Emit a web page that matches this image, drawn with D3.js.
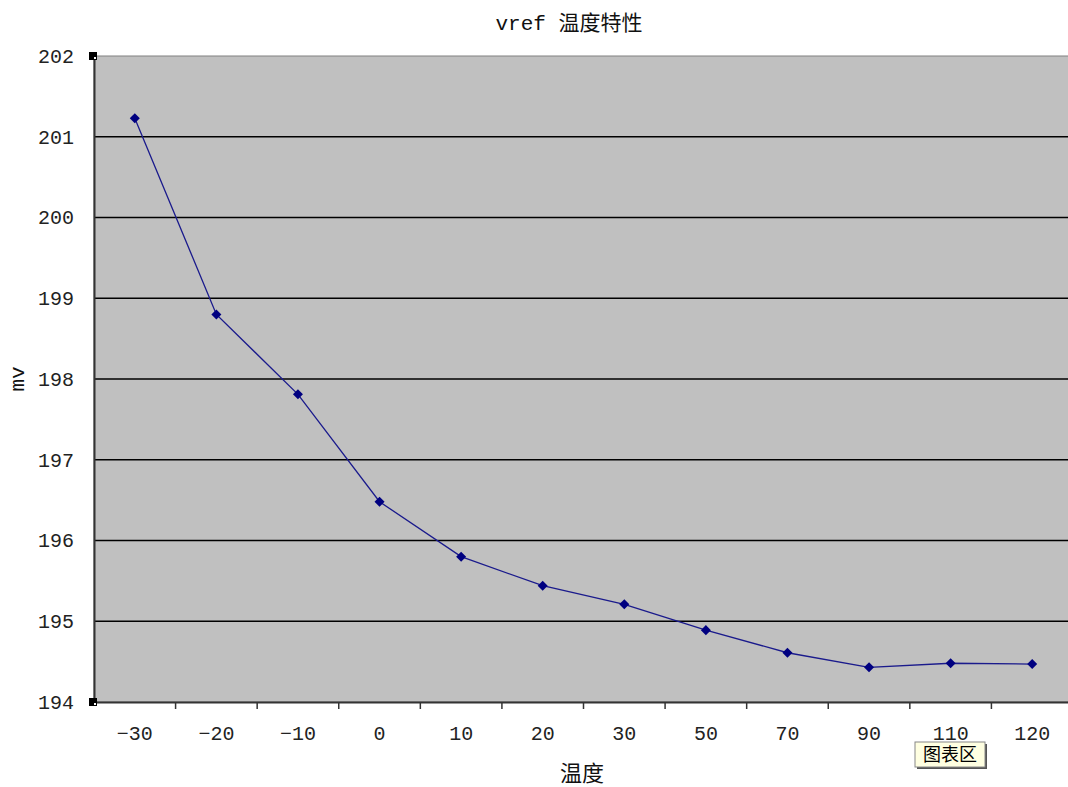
<!DOCTYPE html>
<html>
<head>
<meta charset="utf-8">
<script src="https://cdn.jsdelivr.net/npm/d3@7"></script>
<style>
  body { margin: 0; background: #fff; overflow: hidden; }
  text { font-family: "Liberation Mono", "Noto Sans CJK SC", monospace; }
</style>
</head>
<body>
<svg id="chart"></svg>
<script>
// data
const temps = ["-30", "-20", "-10", "0", "10", "20", "30", "50", "70", "90", "110", "120"];
const mv = [201.23, 198.80, 197.81, 196.48, 195.80, 195.44, 195.21, 194.89, 194.61, 194.43, 194.48, 194.47];
const yTicks = [194, 195, 196, 197, 198, 199, 200, 201, 202];

const width = 1068, height = 787;
const marginLeft = 94, marginTop = 56, marginBottom = 85;
const plotRight = 1073; // plot area runs past the window edge

const svg = d3.select("#chart")
    .attr("width", width)
    .attr("height", height);

const x = d3.scaleBand(temps, [marginLeft, plotRight]);
const y = d3.scaleLinear([194, 202], [height - marginBottom, marginTop]);

// plot area background
svg.append("rect")
    .attr("x", marginLeft)
    .attr("y", marginTop)
    .attr("width", plotRight - marginLeft)
    .attr("height", y(194) - marginTop)
    .attr("fill", "#c0c0c0")
    .attr("stroke", "#808080");

// gridlines
svg.append("g")
    .selectAll("line")
    .data(yTicks.filter(d => d > 194 && d < 202))
    .join("line")
    .attr("x1", marginLeft)
    .attr("x2", plotRight)
    .attr("y1", d => y(d))
    .attr("y2", d => y(d))
    .attr("stroke", "#000")
    .attr("stroke-width", 1.5);

// y axis
const yAxis = d3.axisLeft(y).tickValues(yTicks).tickSize(0).tickPadding(20).tickFormat(d3.format("d"));
svg.append("g")
    .attr("transform", `translate(${marginLeft},0)`)
    .call(yAxis)
    .call(g => g.select(".domain").attr("stroke", "#333").attr("stroke-width", 2))
    .call(g => g.selectAll("text").attr("font-size", 20).attr("fill", "#222"));

// x axis, ticks on band boundaries
const xAxis = d3.axisBottom(x).tickSize(0).tickPadding(24);
svg.append("g")
    .attr("transform", `translate(0,${y(194)})`)
    .call(xAxis)
    .call(g => g.select(".domain").attr("stroke", "#333").attr("stroke-width", 2))
    .call(g => g.selectAll("text").attr("font-size", 20).attr("fill", "#222")
        .text(d => d.startsWith("-") ? "\u2212" + d.slice(1) : d));

svg.append("g")
    .selectAll("line")
    .data(temps.slice(1))
    .join("line")
    .attr("x1", d => x(d))
    .attr("x2", d => x(d))
    .attr("y1", y(194))
    .attr("y2", y(194) + 7)
    .attr("stroke", "#333")
    .attr("stroke-width", 1.5);

// the line and markers
const line = d3.line()
    .x((d, i) => x(temps[i]) + x.bandwidth() / 2)
    .y(d => y(d));

svg.append("path")
    .datum(mv)
    .attr("d", line)
    .attr("fill", "none")
    .attr("stroke", "#1a1a8c")
    .attr("stroke-width", 1.3);

svg.append("g")
    .selectAll("path")
    .data(mv)
    .join("path")
    .attr("d", d3.symbol(d3.symbolDiamond2, 64))
    .attr("transform", (d, i) => `translate(${x(temps[i]) + x.bandwidth() / 2},${y(d)})`)
    .attr("fill", "#000080");

// titles
svg.append("text")
    .attr("x", 569)
    .attr("y", 30)
    .attr("text-anchor", "middle")
    .attr("font-size", 21)
    .attr("fill", "#111")
    .text("vref 温度特性");

svg.append("text")
    .attr("x", 582)
    .attr("y", 781)
    .attr("text-anchor", "middle")
    .attr("font-size", 22)
    .attr("font-family", "Noto Sans CJK SC")
    .attr("fill", "#111")
    .text("温度");

svg.append("text")
    .attr("transform", `translate(24,${(marginTop + y(194)) / 2}) rotate(-90)`)
    .attr("text-anchor", "middle")
    .attr("font-size", 21)
    .attr("font-family", "Liberation Serif")
    .attr("fill", "#111")
    .text("mv");

// selection handles at the plot corners
[marginTop, y(194)].forEach(cy => {
    svg.append("rect")
        .attr("x", marginLeft - 5)
        .attr("y", cy - 4)
        .attr("width", 8)
        .attr("height", 8)
        .attr("fill", "#000");
    svg.append("rect")
        .attr("x", marginLeft)
        .attr("y", cy + 1)
        .attr("width", 2)
        .attr("height", 2)
        .attr("fill", "#fff");
});

// tooltip box
const tip = svg.append("g").attr("transform", "translate(915,742)");
tip.append("rect")
    .attr("x", 2).attr("y", 2)
    .attr("width", 70).attr("height", 25)
    .attr("fill", "#555");
tip.append("rect")
    .attr("width", 70).attr("height", 25)
    .attr("fill", "#ffffe1")
    .attr("stroke", "#888");
tip.append("text")
    .attr("x", 35).attr("y", 19)
    .attr("text-anchor", "middle")
    .attr("font-size", 18)
    .attr("font-family", "Noto Sans CJK SC")
    .attr("fill", "#000")
    .text("图表区");
</script>
</body>
</html>
